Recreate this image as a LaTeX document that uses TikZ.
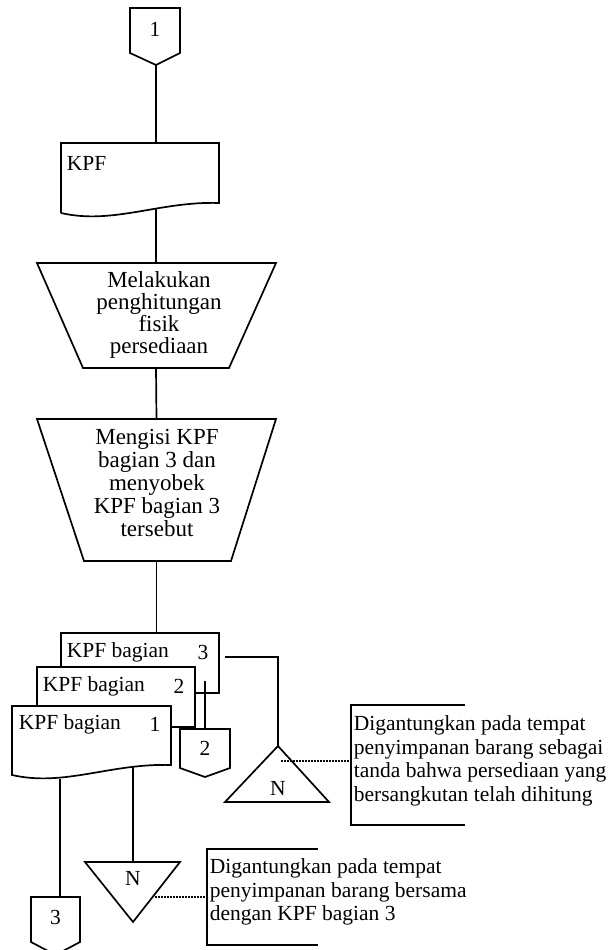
\documentclass[tikz,border=0pt]{standalone}
\usepackage{fontspec}
\setmainfont{Liberation Serif}
\begin{document}
\begin{tikzpicture}[x=1pt,y=-1pt,line width=1.7pt,line join=miter,
  lbl/.style={font=\fontsize{21.5}{23.5}\selectfont,inner sep=0pt},
  note/.style={lbl,align=left,anchor=west},
  optext/.style={font=\fontsize{23}{22}\selectfont,inner sep=0pt,align=center},
  docfill/.style={draw,fill=white},
  dotline/.style={line width=1.8pt,dash pattern=on 1.6pt off 1.4pt}]
\useasboundingbox (0,0) rectangle (611,950);

% ---------- off-page connector 1 ----------
\draw (130,8) -- (180,8) -- (180,53) -- (156,65) -- (130,53) -- cycle;
\node[lbl] (c1) at (155,29) {1};
\coordinate (c1b) at (156,65);

% ---------- document KPF ----------
\draw (61,213) -- (61,143) -- (219,143) -- (219,203)
      .. controls (160,201) and (113,225) .. (61,213);
\node[lbl,anchor=west] (kpf) at (66,163) {KPF};
\coordinate (kpft) at (156,143);
\coordinate (kpfb) at (156,209);

% ---------- manual operation 1 ----------
\draw (37,263) -- (276,263) -- (229,368) -- (83,368) -- cycle;
\node[optext] (op1) at (159,315) {Melakukan\\penghitungan\\fisik\\persediaan};
\coordinate (op1t) at (156,263);
\coordinate (op1b) at (156,368);

% ---------- manual operation 2 ----------
\draw (37,419) -- (276,419) -- (231,561) -- (84,561) -- cycle;
\node[optext,font=\fontsize{23}{22.8}\selectfont] (op2) at (157,483)
  {Mengisi KPF\\bagian 3 dan\\menyobek\\KPF bagian 3\\tersebut};
\coordinate (op2t) at (156.5,419);
\coordinate (op2b) at (156.5,561);

% ---------- multiple documents ----------
\draw[docfill] (61,633) rectangle (219,693);
\draw[docfill] (37,667) rectangle (195,727);
\draw[docfill] (12,775) -- (12,706) -- (171,706) -- (171,765)
      .. controls (110.6,763) and (64.5,787) .. (12,775) -- cycle;
\node[lbl,anchor=west] (d3) at (66,652) {KPF bagian};
\node[lbl] (d3n) at (203,652) {3};
\node[lbl,anchor=west] (d2) at (42,686) {KPF bagian};
\node[lbl] (d2n) at (179,686) {2};
\node[lbl,anchor=west] (d1) at (18,724) {KPF bagian};
\node[lbl] (d1n) at (155,724) {1};
\coordinate (d3t) at (156.5,633);
\coordinate (d3r) at (225,657);
\coordinate (d2r) at (205,681);
\coordinate (d1a) at (60,779);
\coordinate (d1b) at (133,767);

% ---------- off-page connector 2 ----------
\draw (180,729) -- (230,729) -- (230,768) -- (205,777) -- (180,768) -- cycle;
\node[lbl] (c2) at (205,748) {2};
\coordinate (c2t) at (205,729);

% ---------- file N (upright) ----------
\draw (278,746) -- (329,802) -- (225,802) -- cycle;
\node[lbl] (f1) at (278,788) {N};
\coordinate (f1t) at (278,746);
\coordinate (f1r) at (281,761);

% ---------- off-page connector 3 ----------
\draw (31,897) -- (80,897) -- (80,942) -- (55.5,955) -- (31,942) -- cycle;
\node[lbl] (c3) at (55.5,917) {3};
\coordinate (c3t) at (60,897);

% ---------- file N (inverted) ----------
\draw (85,862) -- (180,862) -- (133,922) -- cycle;
\node[lbl] (f2) at (133,878) {N};
\coordinate (f2t) at (133,862);
\coordinate (f2r) at (155,897);

% ---------- annotations ----------
\draw (465,705) -- (351,705) -- (351,825) -- (465,825);
\coordinate (a1) at (351,761);
\node[note] (n1) at (353,761) {Digantungkan pada tempat\\penyimpanan barang sebagai\\tanda bahwa persediaan yang\\bersangkutan telah dihitung};

\draw (318,849) -- (207,849) -- (207,945) -- (318,945);
\coordinate (a2) at (207,897);
\node[note] (n2) at (209,892) {Digantungkan pada tempat\\penyimpanan barang bersama\\dengan KPF bagian 3};

% ---------- flow lines ----------
\draw (c1b) -- (kpft);
\draw (kpfb) -- (op1t);
\draw (op1b) -- (op2t);
\draw (op2b) -- (d3t);
\draw (d3r) -| (f1t);
\draw (d2r) -- (c2t);
\draw (d1a) -- (c3t);
\draw (d1b) -- (f2t);
\draw[dotline] (f1r) -- (a1);
\draw[dotline] (f2r) -- (a2);
\end{tikzpicture}
\end{document}
